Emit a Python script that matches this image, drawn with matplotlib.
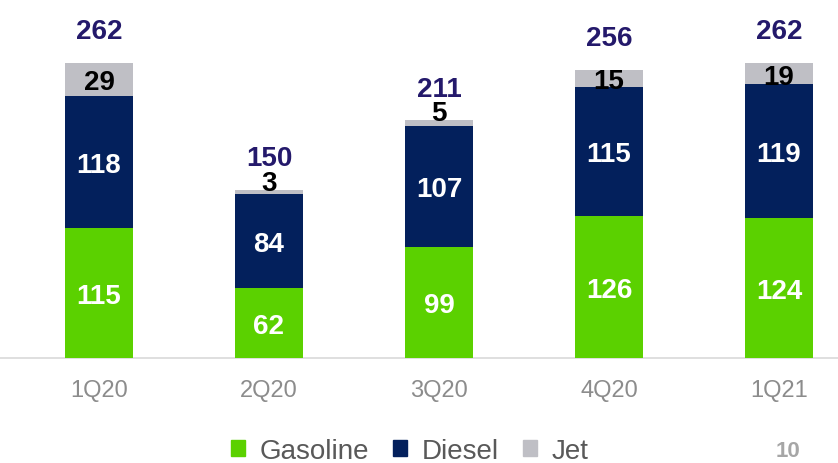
import matplotlib
matplotlib.use("Agg")
import matplotlib.pyplot as plt
import matplotlib.patches as mpatches
import numpy as np

plt.rcParams["font.family"] = ["Liberation Sans", "DejaVu Sans"]

quarters = ["1Q20", "2Q20", "3Q20", "4Q20", "1Q21"]
gasoline = [115, 62, 99, 126, 124]
diesel = [118, 84, 107, 115, 119]
jet = [29, 3, 5, 15, 19]
totals = [262, 150, 211, 256, 262]

GREEN = "#5BD100"
NAVY = "#03205C"
GREY = "#BFBFC5"
TOTAL_CLR = "#24196B"

fig = plt.figure(figsize=(8.38, 4.64), dpi=100)
ax = fig.add_axes([0, 0.2263, 1, 0.7737])

x = np.arange(len(quarters))
w = 0.4
gas = np.array(gasoline)
die = np.array(diesel)
jt = np.array(jet)

ax.bar(x, gas, w, color=GREEN, zorder=3)
ax.bar(x, die, w, bottom=gas, color=NAVY, zorder=3)
ax.bar(x, jt, w, bottom=gas + die, color=GREY, zorder=3)

lbl = dict(ha="center", va="center_baseline", fontsize=20, fontweight="bold")
for i in range(len(quarters)):
    ax.text(x[i], gas[i] / 2, str(gasoline[i]), color="white", **lbl)
    ax.text(x[i], gas[i] + die[i] / 2, str(diesel[i]), color="white", **lbl)
    top = gas[i] + die[i] + jt[i]
    if jet[i] >= 10:
        ax.text(x[i], gas[i] + die[i] + jt[i] / 2, str(jet[i]), color="black", **lbl)
    else:
        ax.annotate(str(jet[i]), (x[i], top), xytext=(0, 7.5),
                    textcoords="offset points", color="black", **lbl)
    ax.annotate(str(totals[i]), (x[i], top), xytext=(0, 25),
                textcoords="offset points", color=TOTAL_CLR, **lbl)

ax.set_xlim(-0.582, 4.347)
ax.set_ylim(0, 318.8)
ax.set_xticks(x)
ax.set_xticklabels(quarters, fontsize=17, color="#8C8C8C")
ax.tick_params(axis="x", length=0, pad=15)
ax.set_yticks([])
for s in ["top", "right", "left"]:
    ax.spines[s].set_visible(False)
ax.spines["bottom"].set_color("#D9D9D9")
ax.spines["bottom"].set_linewidth(1.2)

handles = [
    mpatches.Patch(color=GREEN, label="Gasoline"),
    mpatches.Patch(color=NAVY, label="Diesel"),
    mpatches.Patch(color=GREY, label="Jet"),
]
fig.legend(handles=handles, loc="center", bbox_to_anchor=(0.489, 0.026), ncol=3,
           frameon=False, fontsize=20, labelcolor="#595959",
           handlelength=0.5, handleheight=0.5, handletextpad=0.55,
           columnspacing=0.85)

fig.text(0.940, 0.026, "10", ha="center", va="center", fontsize=16,
         fontweight="bold", color="#A6A6A6")

fig.savefig("out.png", dpi=100)
